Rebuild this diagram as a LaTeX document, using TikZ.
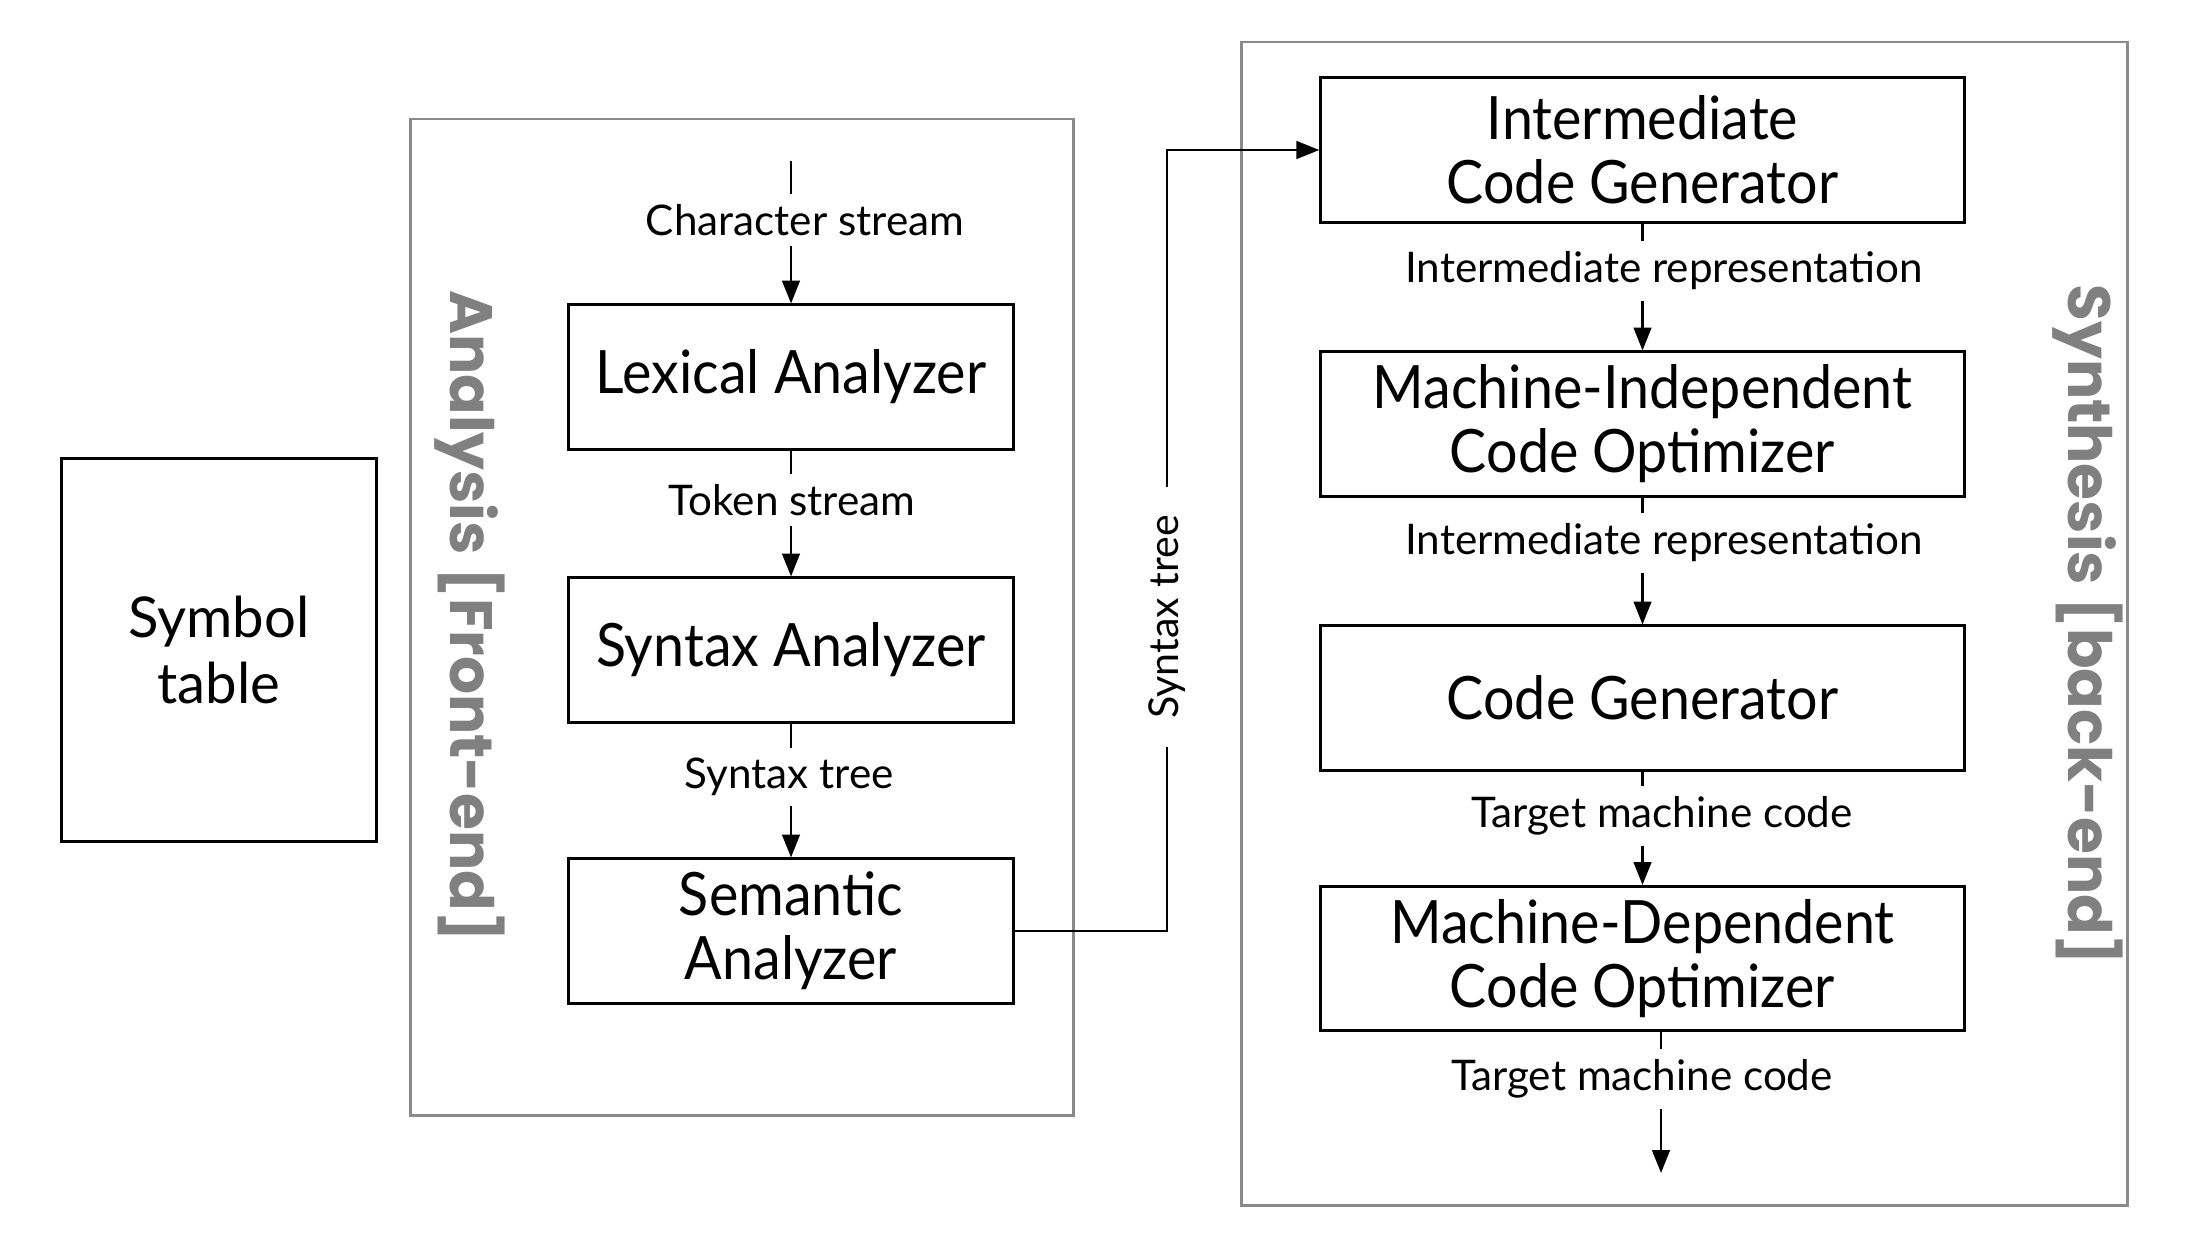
\documentclass[tikz,border=0pt]{standalone}
\usepackage{fontspec}
\setmainfont{Lato}
\newfontfamily\condfont[FakeStretch=0.93]{Lato}
\newfontfamily\heavyfont{Poppins}
\usetikzlibrary{arrows.meta}
\definecolor{framegray}{HTML}{8A8A8A}
\definecolor{labelgray}{HTML}{808080}
\tikzset{
  stagebox/.style={draw=black, line width=0.85pt, minimum width=4.44cm, minimum height=1.44cm,
    align=center, inner sep=0pt, font=\condfont\fontsize{17}{18.2}\selectfont},
  widebox/.style={stagebox, minimum width=6.43cm},
  flowlabel/.style={fill=white, inner xsep=2pt, inner ysep=3pt, font=\fontsize{12}{14}\selectfont},
  flow/.style={line width=0.7pt, -{Triangle[length=6.5pt,width=5pt]}},
  groupframe/.style={draw=framegray, line width=0.85pt},
  grouplabel/.style={text=labelgray, font=\heavyfont\bfseries\fontsize{17}{20}\selectfont, rotate=-90}
}
\begin{document}
\begin{tikzpicture}[x=0.01cm,y=-0.01cm]
\useasboundingbox (0,0) rectangle (2194,1242);
% group frames
\draw[groupframe] (410,119) rectangle (1073,1115);
\draw[groupframe] (1241,42) rectangle (2127,1205);
\node[grouplabel] (frontlbl) at (470,616) {Analysis [Front-end]};
\node[grouplabel] (backlbl) at (2088,625) {Synthesis [back-end]};
% symbol table
\node[draw=black, line width=0.85pt, minimum width=3.14cm, minimum height=3.82cm, align=center,
  font=\fontsize{16}{19}\selectfont] (sym) at (219,650) {Symbol\\table};
% front-end stages
\node[stagebox] (lex) at (791,377) {Lexical Analyzer};
\node[stagebox] (syn) at (791,650) {Syntax Analyzer};
\node[stagebox] (sem) at (791,931) {Semantic\\Analyzer};
% back-end stages
\node[widebox] (icg) at (1642.5,150) {Intermediate\\Code Generator};
\node[widebox] (mic) at (1642.5,424) {Machine-Independent\\Code Optimizer};
\node[widebox] (cg) at (1642.5,698) {Code Generator};
\node[widebox] (mdc) at (1642.5,958.5) {Machine-Dependent\\Code Optimizer};
% free ends
\coordinate (src) at (791,161);
\coordinate (sink) at (1661,1173);
\coordinate (bendlow) at (1167,931);
\coordinate (bendhigh) at (1167,150);
% connectors
\draw[flow] (src) -- (lex.north);
\draw[flow] (lex.south) -- (syn.north);
\draw[flow] (syn.south) -- (sem.north);
\draw[flow] (sem.east) -- (bendlow) -- (bendhigh) -- (icg.west);
\draw[flow] (icg.south) -- (mic.north);
\draw[flow] (mic.south) -- (cg.north);
\draw[flow] (cg.south) -- (mdc.north);
\draw[flow] (mdc.south -| sink) -- (sink);
% connector labels
\node[flowlabel] (l1) at (805,220) {Character stream};
\node[flowlabel] (l2) at (792,500) {Token stream};
\node[flowlabel] (l3) at (789,777) {Syntax tree};
\node[flowlabel] (l4) at (1664,271) {Intermediate representation};
\node[flowlabel] (l5) at (1664,543) {Intermediate representation};
\node[flowlabel] (l6) at (1662,816) {Target machine code};
\node[flowlabel] (l7) at (1642,1079) {Target machine code};
\node[fill=white, rotate=90, inner xsep=8pt, inner ysep=2pt, font=\fontsize{11.7}{13}\selectfont] (l8) at (1167,617) {Syntax tree};
\end{tikzpicture}
\end{document}
